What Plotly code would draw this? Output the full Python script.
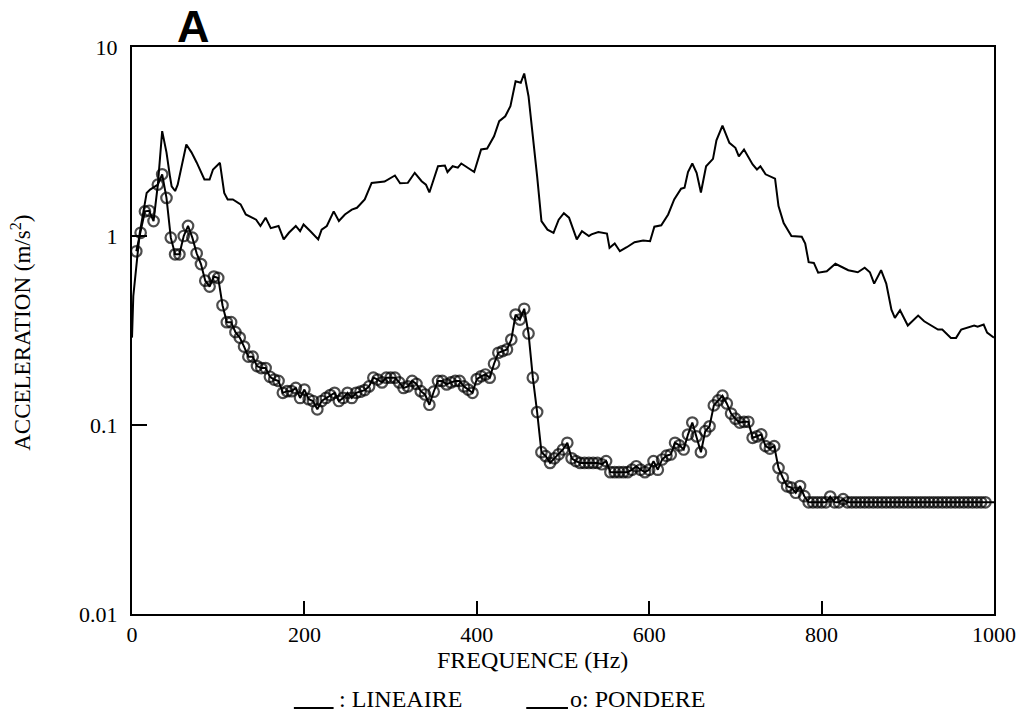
import plotly.graph_objects as go

# LINEAIRE spectrum (Hz, m/s²)
freq_lin = [
    0, 1.5, 9, 17, 21, 26, 30, 35, 40, 44,
    46, 50, 53, 63, 69, 75, 84, 90, 94, 102,
    107, 111, 117, 126, 132, 144, 149, 155, 161, 170,
    176, 182, 190, 195, 199, 207, 216, 220, 226, 234,
    240, 247, 255, 261, 270, 278, 293, 305, 311, 320,
    328, 336, 341, 345, 355, 363, 366, 372, 378, 382,
    389, 397, 405, 412, 420, 426, 433, 439, 445, 451,
    455, 460, 470, 475, 482, 489, 495, 501, 507, 516,
    522, 530, 533, 541, 551, 554, 560, 566, 574, 583,
    593, 601, 606, 614, 622, 629, 637, 641, 645, 650,
    655, 660, 666, 674, 678, 685, 693, 700, 704, 710,
    720, 725, 729, 735, 746, 750, 756, 765, 777, 781,
    785, 791, 796, 806, 816, 831, 842, 850, 856, 861,
    869, 875, 881, 885, 891, 900, 912, 919, 935, 940,
    950, 956, 962, 971, 977, 981, 988, 992, 998, 1000,
]
acc_lin = [
    0.29, 0.48, 1.04, 1.69, 1.76, 1.81, 1.87, 3.59, 2.77, 2.07,
    1.83, 1.73, 1.87, 3.05, 2.77, 2.45, 1.99, 1.99, 2.25, 2.44,
    1.69, 1.56, 1.56, 1.47, 1.30, 1.22, 1.13, 1.25, 1.10, 1.13,
    0.96, 1.04, 1.13, 1.06, 1.15, 1.06, 0.96, 1.08, 1.13, 1.35,
    1.20, 1.30, 1.38, 1.41, 1.56, 1.91, 1.94, 2.09, 1.90, 1.91,
    2.16, 1.95, 1.87, 1.70, 2.34, 2.36, 2.18, 2.34, 2.30, 2.42,
    2.30, 2.18, 2.87, 2.90, 3.37, 4.05, 4.30, 4.86, 6.59, 6.47,
    7.24, 5.49, 2.07, 1.20, 1.08, 1.04, 1.22, 1.32, 1.25, 0.96,
    1.06, 1.00, 1.02, 1.05, 1.03, 0.866, 0.913, 0.831, 0.872, 0.927,
    0.947, 0.939, 1.12, 1.14, 1.30, 1.56, 1.78, 1.80, 2.18, 2.42,
    2.16, 1.70, 2.34, 2.56, 3.21, 3.84, 3.11, 2.93, 2.64, 2.87,
    2.39, 2.25, 2.34, 2.12, 2.01, 1.44, 1.17, 1.00, 0.99, 0.913,
    0.727, 0.72, 0.639, 0.65, 0.713, 0.659, 0.643, 0.679, 0.643, 0.56,
    0.659, 0.56, 0.408, 0.369, 0.405, 0.336, 0.379, 0.354, 0.32, 0.32,
    0.289, 0.289, 0.32, 0.331, 0.336, 0.331, 0.34, 0.308, 0.293, 0.29,
]

# PONDERE spectrum, sampled every 5 Hz from 5 to 1000 Hz
freq_pond = list(range(5, 1001, 5))
acc_pond = [
    0.83, 1.04, 1.35, 1.36, 1.20, 1.87, 2.12, 1.59, 0.98, 0.80,
    0.80, 1.00, 1.13, 0.98, 0.81, 0.71, 0.58, 0.54, 0.61, 0.60,
    0.43, 0.35, 0.35, 0.31, 0.29, 0.26, 0.23, 0.23, 0.205, 0.20,
    0.20, 0.18, 0.174, 0.171, 0.148, 0.151, 0.151, 0.157, 0.139, 0.154,
    0.137, 0.134, 0.121, 0.134, 0.139, 0.144, 0.148, 0.134, 0.139, 0.148,
    0.139, 0.148, 0.150, 0.153, 0.160, 0.178, 0.174, 0.168, 0.178, 0.178,
    0.178, 0.168, 0.157, 0.160, 0.171, 0.165, 0.151, 0.145, 0.128, 0.150,
    0.171, 0.171, 0.164, 0.168, 0.171, 0.171, 0.160, 0.154, 0.148, 0.175,
    0.181, 0.185, 0.178, 0.211, 0.241, 0.246, 0.251, 0.283, 0.384, 0.361,
    0.412, 0.305, 0.178, 0.117, 0.0718, 0.0684, 0.063, 0.0666, 0.070, 0.0742,
    0.0805, 0.0666, 0.0644, 0.063, 0.063, 0.063, 0.063, 0.063, 0.062, 0.0644,
    0.0563, 0.0563, 0.0563, 0.0563, 0.0563, 0.058, 0.0605, 0.058, 0.0563, 0.058,
    0.0644, 0.058, 0.0657, 0.0688, 0.0698, 0.0805, 0.078, 0.0742, 0.089, 0.103,
    0.087, 0.0718, 0.0927, 0.0984, 0.127, 0.135, 0.143, 0.13, 0.115, 0.108,
    0.103, 0.104, 0.104, 0.0855, 0.087, 0.0891, 0.0773, 0.075, 0.0773, 0.0593,
    0.0526, 0.0474, 0.0466, 0.0438, 0.0475, 0.042, 0.039, 0.039, 0.039, 0.039,
    0.039, 0.0418, 0.039, 0.039, 0.0405, 0.039, 0.039, 0.039, 0.039, 0.039,
    0.039, 0.039, 0.039, 0.039, 0.039, 0.039, 0.039, 0.039, 0.039, 0.039,
    0.039, 0.039, 0.039, 0.039, 0.039, 0.039, 0.039, 0.039, 0.039, 0.039,
    0.039, 0.039, 0.039, 0.039, 0.039, 0.039, 0.039, 0.039, 0.039, 0.039,
]

x_ticks = [0, 200, 400, 600, 800, 1000]
y_ticks = [0.01, 0.1, 1, 10]
y_tick_text = ["0.01", "0.1", "1", "10"]

SERIF = "Liberation Serif, Times New Roman, serif"
INK = "black"

fig = go.Figure()

fig.add_trace(go.Scatter(
    x=freq_lin, y=acc_lin, mode="lines", name="LINEAIRE",
    line=dict(color=INK, width=2), showlegend=False,
))

# open circles on every PONDERE sample up to 990 Hz; the line runs on to 1000 Hz
marker_sizes = [10.5 if f <= 990 else 0 for f in freq_pond]
fig.add_trace(go.Scatter(
    x=freq_pond, y=acc_pond, mode="lines+markers", name="PONDERE",
    line=dict(color=INK, width=2),
    marker=dict(symbol="circle-open", size=marker_sizes, color=INK,
                line=dict(color=INK, width=2.2)),
    showlegend=False,
))

axis_common = dict(
    showgrid=False, zeroline=False, showline=True, linecolor=INK, linewidth=2,
    mirror=True, ticks="inside", tickwidth=2, tickcolor=INK,
    tickfont=dict(family=SERIF, size=22, color=INK),
)

fig.update_xaxes(range=[0, 1000], tickvals=x_ticks, ticklen=13,
                 ticklabelstandoff=0, **axis_common)
fig.update_yaxes(type="log", range=[-2, 1], tickvals=y_ticks, ticktext=y_tick_text,
                 ticklen=15, ticklabelstandoff=8, **axis_common)

L, R, T, B = 132, 28, 47, 101
W, H = 1028, 715
pw, ph = W - L - R, H - T - B


def px(x):
    return (x - L) / pw


def py(y):
    return (H - B - y) / ph


annotations = [
    dict(text="<b>A</b>", x=px(194), y=py(26), xref="paper", yref="paper",
         showarrow=False, xanchor="center", yanchor="middle",
         font=dict(family="Liberation Sans, Arial, sans-serif", size=45, color=INK)),
    dict(text="FREQUENCE (Hz)", x=px(535), y=py(660), xref="paper", yref="paper",
         showarrow=False, xanchor="center", yanchor="middle",
         font=dict(family=SERIF, size=24, color=INK)),
    dict(text="ACCELERATION (m/s<sup>2</sup>)", x=px(20), y=py(333), xref="paper",
         yref="paper", showarrow=False, xanchor="center", yanchor="middle",
         textangle=-90, font=dict(family=SERIF, size=23, color=INK)),
    dict(text=": LINEAIRE", x=px(338), y=py(699), xref="paper", yref="paper",
         showarrow=False, xanchor="left", yanchor="middle",
         font=dict(family=SERIF, size=24, color=INK)),
    dict(text="o: PONDERE", x=px(571), y=py(699), xref="paper", yref="paper",
         showarrow=False, xanchor="left", yanchor="middle",
         font=dict(family=SERIF, size=24, color=INK)),
]

shapes = [
    dict(type="line", xref="paper", yref="paper", x0=px(295), x1=px(335),
         y0=py(708), y1=py(708), line=dict(color=INK, width=2)),
    dict(type="line", xref="paper", yref="paper", x0=px(529), x1=px(571),
         y0=py(708), y1=py(708), line=dict(color=INK, width=2)),
]

fig.update_layout(
    width=W, height=H,
    margin=dict(l=L, r=R, t=T, b=B, pad=0),
    paper_bgcolor="white", plot_bgcolor="white",
    annotations=annotations, shapes=shapes,
    font=dict(family=SERIF, color=INK),
)

fig.write_html("out.html")
